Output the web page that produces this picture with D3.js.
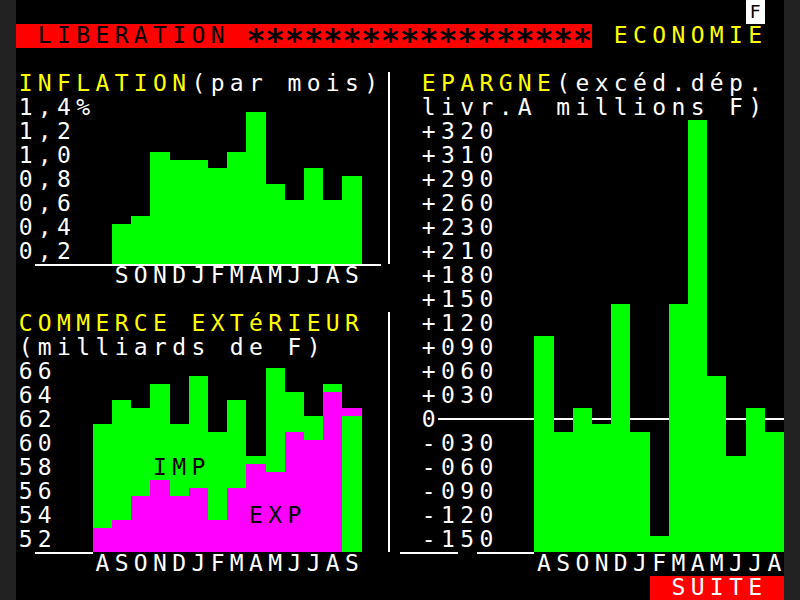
<!DOCTYPE html>
<html><head><meta charset="utf-8">
<script src="https://cdn.jsdelivr.net/npm/d3@7"></script>
<style>html,body{margin:0;padding:0;background:#222;} svg{display:block;} text{font-family:"DejaVu Sans Mono",monospace;font-size:23px;} rect{shape-rendering:crispEdges;}</style>
</head><body><svg id="c" width="800" height="600"></svg>
<script>
// ---- data ----
const inflMonths = ["S","O","N","D","J","F","M","A","M","J","J","A","S"];
const inflValues = [0.43,0.5,1.03,0.97,0.97,0.9,1.03,1.37,0.77,0.63,0.9,0.63,0.83];
const inflTicks = [1.4,1.2,1.0,0.8,0.6,0.4,0.2];
const inflTickLabels = ["1,4%","1,2","1,0","0,8","0,6","0,4","0,2"];

const comMonths = ["A","S","O","N","D","J","F","M","A","M","J","J","A","S"];
const comImports = [61.67,63.67,63,65,61.67,65.67,61,63.67,59,66.33,64.33,62.33,65,62.33];
const comExports = [53,53.67,55.67,57,55.67,56.33,53.67,56.33,58.33,57.67,61,60.33,64.33,63];
const comTicks = [66,64,62,60,58,56,54,52];
const comTickLabels = ["66","64","62","60","58","56","54","52"];

const epMonths = ["A","S","O","N","D","J","F","M","A","M","J","J","A"];
const epValues = [105,-15,15,-5,145,-15,-145,145,325,55,-45,15,-15];
const epTicks = [320,310,290,260,230,210,180,150,120,90,60,30,0,-30,-60,-90,-120,-150];
const epTickLabels = ["+320","+310","+290","+260","+230","+210","+180","+150","+120","+090","+060","+030","0","-030","-060","-090","-120","-150"];

// ---- layout (Minitel grid 40x25) ----
const CW = 19.2, RH = 24, X0 = 16;
const col = c => X0 + c*CW;
const row = r => r*RH;
const BASE = 19;
const svg = d3.select("#c");
svg.append("rect").attr("width",800).attr("height",600).attr("fill","#222");
svg.append("rect").attr("x",16).attr("width",768).attr("height",600).attr("fill","#000");

function txt(str, c, y, color, extra) {
  const g = svg.append("g").attr("fill", color);
  g.selectAll("text").data(Array.from(str).map((ch,i)=>({ch,i})).filter(d=>d.ch!==" "))
    .join("text")
    .attr("x", d => col(c+d.i) + CW/2)
    .attr("y", y)
    .attr("text-anchor","middle")
    .text(d => d.ch);
  if (extra) extra(g);
  return g;
}
function rect(x,y,w,h,fill){
  const x0 = Math.round(x), x1 = Math.round(x+w);
  svg.append("rect").attr("x",x0).attr("y",y).attr("width",x1-x0).attr("height",h).attr("fill",fill);
}
function bx(scale, i){ return Math.round(scale(i)); }
function bw(scale, i){ return Math.round(scale(i)+scale.bandwidth()) - Math.round(scale(i)); }

// header
rect(col(38), row(0), CW, RH, "#fff");
txt("F", 38, row(0)+17.5, "#000", g => g.selectAll("text").style("font-size","18px"));
rect(col(0), row(1), 30*CW, RH, "#f00");
txt("LIBERATION", 1, row(1)+BASE, "#000");
txt("*".repeat(18), 12, row(1)+27, "#000", g => g.selectAll("text").style("font-size","32px").style("font-weight","bold"));
txt("ECONOMIE", 31, row(1)+BASE, "#ff0");

// ---- inflation ----
txt("INFLATION", 0, row(3)+BASE, "#ff0");
txt("(par mois)", 9, row(3)+BASE, "#fff");
const yInf = d3.scaleLinear().domain([0.1, 1.4]).range([row(11), row(4)+12]);
const xInf = d3.scaleBand().domain(d3.range(inflMonths.length)).range([col(5), col(18)]);
svg.append("g").selectAll("rect").data(inflValues).join("rect")
  .attr("x",(d,i)=>bx(xInf,i)).attr("width",(d,i)=>bw(xInf,i))
  .attr("y",d=>yInf(d)).attr("height",d=>yInf.range()[0]-yInf(d)).attr("fill","#0f0");
inflTicks.forEach((t,i)=>txt(inflTickLabels[i], 0, yInf(t)+7, "#fff"));
rect(col(1), row(11), col(19)-col(1), 2, "#fff");
txt(inflMonths.join(""), 5, row(11)+BASE, "#fff");
rect(388, row(3), 2, row(11)-row(3), "#fff");

// ---- commerce extérieur ----
txt("COMMERCE EXTéRIEUR", 0, row(13)+BASE, "#ff0");
txt("(milliards de F)", 0, row(14)+BASE, "#fff");
const yCom = d3.scaleLinear().domain([51, 66]).range([row(23), row(15)+12]);
const xCom = d3.scaleBand().domain(d3.range(comMonths.length)).range([col(4), col(18)]);
const comData = comImports.map((imp,i)=>({i, imp, exp: comExports[i]}));
const gCom = svg.append("g");
comData.forEach(d => {
  const pair = [{v:d.imp, c:"#0f0"}, {v:d.exp, c:"#f0f"}].sort((a,b)=>b.v-a.v);
  pair.forEach(p => {
    gCom.append("rect").attr("x", bx(xCom,d.i)).attr("width", bw(xCom,d.i))
      .attr("y", yCom(p.v)).attr("height", yCom.range()[0]-yCom(p.v)).attr("fill", p.c);
  });
});
comTicks.forEach((t,i)=>txt(comTickLabels[i], 0, yCom(t)+7, "#fff"));
rect(col(1), row(23), col(4)-col(1), 2, "#fff");
txt(comMonths.join(""), 4, row(23)+BASE, "#fff");
txt("IMP", 7, row(19)+BASE, "#000");
txt("EXP", 12, row(21)+BASE, "#000");
rect(388, row(13), 2, row(23)-row(13), "#fff");

// ---- epargne ----
txt("EPARGNE", 21, row(3)+BASE, "#ff0");
txt("(excéd.dép.", 28, row(3)+BASE, "#fff");
txt("livr.A millions F)", 21, row(4)+BASE, "#fff");
const epAsc = epTicks.slice().reverse();
const yEp = d3.scaleLinear().domain(epAsc).range(epAsc.map((t,k)=>row(5+epTicks.length-1-k)+12));
const xEp = d3.scaleBand().domain(d3.range(epMonths.length)).range([col(27), col(40)]);
const epBottom = row(23);
rect(col(22), yEp(0)-2, col(40)-col(22), 2, "#fff");
svg.append("g").selectAll("rect").data(epValues).join("rect")
  .attr("x",(d,i)=>bx(xEp,i)).attr("width",(d,i)=>bw(xEp,i))
  .attr("y",d=>yEp(d)).attr("height",d=>epBottom-yEp(d)).attr("fill","#0f0");
epTicks.forEach((t,i)=>txt(epTickLabels[i], 21, yEp(t)+7, "#fff"));
rect(col(20), row(23), col(23)-col(20), 2, "#fff");
rect(col(24), row(23), col(27)-col(24), 2, "#fff");
txt(epMonths.join(""), 27, row(23)+BASE, "#fff");

// footer
rect(col(33), row(24), col(40)-col(33), RH, "#f00");
txt("SUITE", 34, row(24)+BASE, "#fff");
</script></body></html>
